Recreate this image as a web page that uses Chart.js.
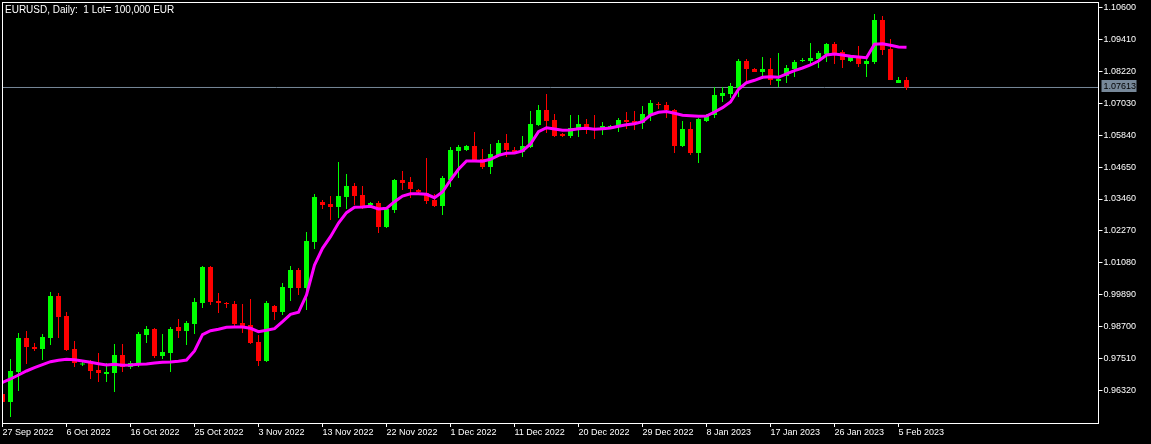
<!DOCTYPE html>
<html>
<head>
<meta charset="utf-8">
<title>EURUSD, Daily</title>
<script src="https://cdn.jsdelivr.net/npm/chart.js@4.4.0/dist/chart.umd.min.js"></script>
<style>
	html, body { margin: 0; padding: 0; background: #000; }
	#wrap { width: 1151px; height: 444px; }
</style>
</head>
<body>
<div id="wrap"><canvas id="chart-area" width="1151" height="444"></canvas></div>
<script>
	//daily bars, one per trading day (sunday bars included)
	var dates = [
	'27 Sep 2022','28 Sep 2022','29 Sep 2022','30 Sep 2022',
	'2 Oct 2022','3 Oct 2022','4 Oct 2022','5 Oct 2022','6 Oct 2022','7 Oct 2022','9 Oct 2022','10 Oct 2022','11 Oct 2022',
	'12 Oct 2022','13 Oct 2022','14 Oct 2022','16 Oct 2022','17 Oct 2022','18 Oct 2022','19 Oct 2022','20 Oct 2022','21 Oct 2022',
	'23 Oct 2022','24 Oct 2022','25 Oct 2022','26 Oct 2022','27 Oct 2022','28 Oct 2022','30 Oct 2022','31 Oct 2022',
	'1 Nov 2022','2 Nov 2022','3 Nov 2022','4 Nov 2022','6 Nov 2022','7 Nov 2022','8 Nov 2022','9 Nov 2022','10 Nov 2022',
	'11 Nov 2022','13 Nov 2022','14 Nov 2022','15 Nov 2022','16 Nov 2022','17 Nov 2022','18 Nov 2022','20 Nov 2022',
	'21 Nov 2022','22 Nov 2022','23 Nov 2022','24 Nov 2022','25 Nov 2022','27 Nov 2022','28 Nov 2022','29 Nov 2022','30 Nov 2022',
	'1 Dec 2022','2 Dec 2022','4 Dec 2022','5 Dec 2022','6 Dec 2022','7 Dec 2022','8 Dec 2022','9 Dec 2022','11 Dec 2022',
	'12 Dec 2022','13 Dec 2022','14 Dec 2022','15 Dec 2022','16 Dec 2022','18 Dec 2022','19 Dec 2022','20 Dec 2022',
	'21 Dec 2022','22 Dec 2022','23 Dec 2022','25 Dec 2022','26 Dec 2022','27 Dec 2022','28 Dec 2022','29 Dec 2022','30 Dec 2022',
	'1 Jan 2023','2 Jan 2023','3 Jan 2023','4 Jan 2023','5 Jan 2023','6 Jan 2023','8 Jan 2023','9 Jan 2023','10 Jan 2023',
	'11 Jan 2023','12 Jan 2023','13 Jan 2023','15 Jan 2023','16 Jan 2023','17 Jan 2023','18 Jan 2023','19 Jan 2023','20 Jan 2023',
	'22 Jan 2023','23 Jan 2023','24 Jan 2023','25 Jan 2023','26 Jan 2023','27 Jan 2023','29 Jan 2023','30 Jan 2023','31 Jan 2023',
	'1 Feb 2023','2 Feb 2023','3 Feb 2023','5 Feb 2023','6 Feb 2023'
	];

	var open = [
	0.96198,0.95900,0.97017,0.98284,0.97948,0.97874,0.98284,0.99848,0.99103,0.97874,
	0.97297,0.97352,0.97092,0.96943,0.96980,0.97650,0.97204,0.97352,0.98395,0.98619,
	0.97613,0.97725,0.98693,0.98544,0.98805,0.99587,1.00928,0.99662,0.99587,0.99550,
	0.98842,0.98768,0.98135,0.97427,0.99475,0.99252,1.00146,1.00816,1.00146,1.01859,
	1.03349,1.03274,1.03163,1.03535,1.03945,1.03609,1.03237,1.03312,1.02418,1.03051,
	1.04168,1.04094,1.03796,1.03684,1.03423,1.03200,1.04168,1.05248,1.05285,1.05434,
	1.04950,1.04652,1.05099,1.05546,1.05285,1.05211,1.05397,1.06217,1.06775,1.06403,
	1.05881,1.05807,1.06105,1.06254,1.06105,1.06068,1.06105,1.06179,1.06403,1.06366,
	1.06291,1.06589,1.06999,1.06961,1.06775,1.05434,1.06068,1.05174,1.06366,1.06589,
	1.07297,1.07371,1.07595,1.08600,1.08302,1.08190,1.08302,1.07855,1.08042,1.08302,
	1.08600,1.08600,1.08675,1.08861,1.09233,1.08935,1.08600,1.08786,1.08488,1.08563,
	1.10127,1.09047,1.07781,1.07893
	];

	var high = [
	0.96235,0.97501,0.98470,0.98544,0.98097,0.98433,0.99997,0.99960,0.99252,0.98172,
	0.97390,0.97464,0.97725,0.97352,0.98060,0.98060,0.97427,0.98507,0.98731,0.98656,
	0.98433,0.98693,0.98991,0.98917,0.99773,1.00965,1.00965,0.99960,0.99624,0.99662,
	0.99550,0.99736,0.98395,0.99662,0.99513,1.00332,1.00965,1.00891,1.02231,1.03647,
	1.03423,1.03572,1.04839,1.04392,1.04056,1.03945,1.03349,1.03386,1.03125,1.04205,
	1.04503,1.04280,1.03833,1.04987,1.03647,1.04317,1.05397,1.05472,1.05472,1.05956,
	1.05323,1.05509,1.05658,1.05881,1.05397,1.05807,1.06738,1.06961,1.07371,1.06626,
	1.05919,1.06589,1.06589,1.06440,1.06589,1.06328,1.06217,1.06477,1.06701,1.06738,
	1.06924,1.07148,1.07073,1.07073,1.06812,1.06366,1.06328,1.06477,1.06626,1.07632,
	1.07632,1.07781,1.08675,1.08675,1.08339,1.08749,1.08712,1.08898,1.08451,1.08637,
	1.08712,1.09271,1.08973,1.09271,1.09308,1.09010,1.08786,1.09159,1.08712,1.10351,
	1.10276,1.09420,1.08004,1.08004
	];

	var low = [
	0.95863,0.95341,0.96310,0.97315,0.97799,0.97464,0.98023,0.98284,0.97799,0.97204,
	0.97241,0.96757,0.96645,0.96645,0.96272,0.97017,0.97129,0.97204,0.98097,0.97539,
	0.97501,0.97017,0.98284,0.98023,0.98433,0.99401,0.99513,0.99215,0.99401,0.98693,
	0.98470,0.98060,0.97241,0.97390,0.98954,0.99140,0.99662,0.99885,0.99326,1.01598,
	1.03088,1.02678,1.02753,1.03088,1.03237,1.03088,1.03200,1.02194,1.02380,1.02939,
	1.03796,1.03498,1.03684,1.03274,1.03163,1.02865,1.03907,1.04243,1.05248,1.04839,
	1.04578,1.04392,1.05025,1.05025,1.05174,1.05025,1.05360,1.06179,1.05919,1.05770,
	1.05770,1.05732,1.05770,1.05881,1.05695,1.05844,1.06068,1.05956,1.06068,1.06030,
	1.06068,1.06366,1.06812,1.06477,1.05174,1.05397,1.05099,1.04801,1.06328,1.06477,
	1.07073,1.07222,1.07259,1.07818,1.08190,1.07930,1.07706,1.07632,1.07781,1.08004,
	1.08563,1.08451,1.08339,1.08563,1.08488,1.08339,1.08563,1.08377,1.08004,1.08488,
	1.08824,1.07893,1.07781,1.07520
	];

	var close = [
	0.95900,0.97055,0.98284,0.97948,0.97874,0.98321,0.99848,0.99066,0.97837,0.97352,
	0.97315,0.97055,0.96980,0.97017,0.97650,0.97204,0.97352,0.98433,0.98619,0.97613,
	0.97762,0.98619,0.98544,0.98842,0.99624,1.00928,0.99624,0.99587,0.99550,0.98805,
	0.98693,0.98097,0.97427,0.99587,0.99252,1.00183,1.00816,1.00146,1.01896,1.03535,
	1.03237,1.03163,1.03572,1.03945,1.03572,1.03200,1.03312,1.02418,1.03088,1.04168,
	1.04056,1.03833,1.03721,1.03386,1.03200,1.04243,1.05285,1.05397,1.05434,1.04913,
	1.04652,1.05136,1.05546,1.05285,1.05211,1.05434,1.06254,1.06775,1.06366,1.05807,
	1.05807,1.06105,1.06254,1.06105,1.06030,1.06179,1.06179,1.06403,1.06328,1.06254,
	1.06626,1.07036,1.06961,1.06775,1.05434,1.06068,1.05174,1.06440,1.06552,1.07334,
	1.07408,1.07669,1.08600,1.08302,1.08190,1.08302,1.07893,1.07930,1.08339,1.08563,
	1.08637,1.08712,1.08898,1.09233,1.08861,1.08637,1.08749,1.08488,1.08600,1.10127,
	1.09010,1.07893,1.07893,1.07613
	];

	//moving average line as drawn on the chart
	var ma = [
	0.96634,0.96757,0.96906,0.97055,0.97177,0.97289,0.97401,0.97453,0.97490,0.97475,
	0.97427,0.97379,0.97326,0.97278,0.97304,0.97267,0.97278,0.97304,0.97315,0.97352,
	0.97379,0.97390,0.97416,0.97464,0.97799,0.98406,0.98555,0.98608,0.98682,0.98693,
	0.98693,0.98645,0.98518,0.98570,0.98630,0.98891,0.99166,0.99241,0.99885,1.01002,
	1.01624,1.02056,1.02567,1.02950,1.03151,1.03163,1.03189,1.03088,1.03114,1.03360,
	1.03572,1.03658,1.03658,1.03636,1.03509,1.03721,1.04168,1.04567,1.04876,1.04876,
	1.04865,1.04939,1.05088,1.05163,1.05174,1.05248,1.05509,1.05967,1.06116,1.06068,
	1.06019,1.06030,1.06079,1.06094,1.06056,1.06079,1.06105,1.06168,1.06228,1.06265,
	1.06339,1.06589,1.06690,1.06719,1.06652,1.06578,1.06563,1.06541,1.06552,1.06701,
	1.06861,1.07073,1.07546,1.07792,1.07881,1.07993,1.08015,1.07993,1.08116,1.08239,
	1.08339,1.08451,1.08600,1.08824,1.08861,1.08824,1.08775,1.08749,1.08723,1.09222,
	1.09244,1.09185,1.09122,1.09110
	];

	var priceTicks = [0.96320,0.97510,0.98700,0.99890,1.01080,1.02270,1.03460,1.04650,1.05840,1.07030,1.08220,1.09410,1.10600];
	var bid = 1.07613;
	var chartTitle = 'EURUSD, Daily:  1 Lot= 100,000 EUR';

	init();

function init () {
	candleChart();
}

function candleChart () {
	var up = '#00ff00';
	var down = '#ff0000';
	var colors = close.map(function (c, i) { return c >= open[i] ? up : down; });
	var dateTicks = dates.map(function (d, i) { return i; }).filter(function (i) { return i % 8 === 0; });

	var font = { family: 'Liberation Sans', size: 9 };

	var frame = {
		id: 'frame',
		beforeDraw: function (chart) {
			var c = chart.ctx;
			c.save();
			c.fillStyle = '#000';
			c.fillRect(0, 0, chart.width, chart.height);
			c.restore();
		},
		afterDraw: function (chart) {
			var c = chart.ctx;
			var a = chart.chartArea;
			var y = chart.scales.y.getPixelForValue(bid);
			c.save();
			c.strokeStyle = '#fff';
			c.lineWidth = 1;
			c.strokeRect(a.left, a.top + 0.5, a.right - a.left, a.bottom - a.top);
			//current price box on the right scale
			c.fillStyle = '#778899';
			c.fillRect(a.right + 3, Math.round(y) - 7, 35, 12);
			c.fillStyle = '#000';
			c.font = '9px "Liberation Sans"';
			c.textBaseline = 'middle';
			c.fillText(bid.toFixed(5), a.right + 5, Math.round(y) - 0.5);
			//symbol caption
			c.fillStyle = '#fff';
			c.font = '10px "Liberation Sans"';
			c.textBaseline = 'alphabetic';
			c.fillText(chartTitle, 5, 13);
			c.restore();
		}
	};

	var config = {
		type: 'bar',
		data: {
			datasets: [{
				type: 'line',
				label: 'MA',
				data: ma.map(function (v, i) { return { x: i, y: v }; }),
				borderColor: '#ff00ff',
				borderWidth: 3,
				pointRadius: 0,
				tension: 0,
				order: 0
			}, {
				label: 'body',
				data: dates.map(function (d, i) { return { x: i, y: [open[i], close[i]] }; }),
				backgroundColor: colors,
				barThickness: 5,
				minBarLength: 1,
				grouped: false,
				inflateAmount: 0,
				borderWidth: 0,
				order: 1
			}, {
				label: 'wick',
				data: dates.map(function (d, i) { return { x: i, y: [low[i], high[i]] }; }),
				backgroundColor: colors,
				barThickness: 1,
				minBarLength: 1,
				grouped: false,
				inflateAmount: 0,
				borderWidth: 0,
				order: 2
			}, {
				type: 'line',
				label: 'bid',
				data: [{ x: 0, y: bid }, { x: 137, y: bid }],
				borderColor: '#778899',
				borderWidth: 1,
				pointRadius: 0,
				order: 3
			}]
		},
		options: {
			responsive: false,
			animation: false,
			layout: { padding: { left: 2.5, top: 2, right: 0, bottom: 0 } },
			plugins: {
				legend: { display: false },
				tooltip: { enabled: false }
			},
			scales: {
				x: {
					type: 'linear',
					min: 0,
					max: 137,
					offset: false,
					afterFit: function (s) {
						s.height = 21;
						s.paddingLeft = 0;
						s.paddingRight = 0;
					},
					afterBuildTicks: function (s) {
						s.ticks = dateTicks.map(function (v) { return { value: v }; });
					},
					grid: { display: true, drawOnChartArea: false, offset: false, tickLength: 4, tickColor: '#fff', color: '#fff' },
					border: { display: false },
					ticks: {
						autoSkip: false,
						maxRotation: 0,
						align: 'start',
						padding: 0,
						color: '#fff',
						font: font,
						callback: function (v) { return dates[v]; }
					}
				},
				y: {
					type: 'linear',
					position: 'right',
					min: 0.95118,
					max: 1.10797,
					beginAtZero: false,
					afterFit: function (s) {
						s.width = 52.5;
						s.paddingTop = 0;
						s.paddingBottom = 0;
					},
					afterBuildTicks: function (s) {
						s.ticks = priceTicks.map(function (v) { return { value: v }; });
					},
					grid: { display: true, drawOnChartArea: false, tickLength: 4, tickColor: '#fff', color: '#fff' },
					border: { display: false },
					ticks: {
						autoSkip: false,
						padding: 1,
						color: '#fff',
						font: font,
						callback: function (v) { return v.toFixed(5); }
					}
				}
			}
		},
		plugins: [frame]
	};

	var ctx = document.getElementById('chart-area').getContext('2d');
	window.myChart = new Chart(ctx, config);
}
</script>
</body>
</html>
